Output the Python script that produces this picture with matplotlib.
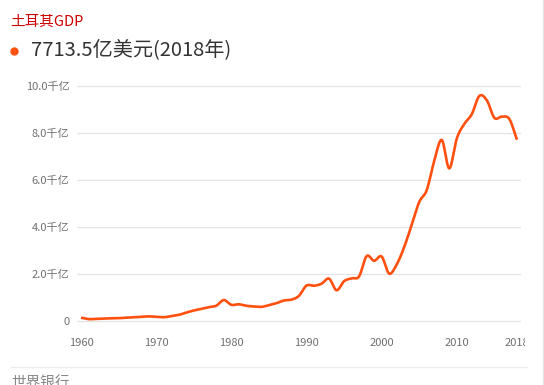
import numpy as np
import matplotlib
matplotlib.use('Agg')
import matplotlib.pyplot as plt
from matplotlib.lines import Line2D

plt.rcParams['font.family'] = ['Noto Sans CJK SC', 'DejaVu Sans']

# Turkey GDP, unit: 千亿美元 (hundred billion USD)
years = list(range(1960, 2019))
gdp = [0.140, 0.080, 0.089, 0.104, 0.112, 0.120, 0.141, 0.157, 0.175, 0.195,
       0.173, 0.160, 0.204, 0.257, 0.356, 0.446, 0.513, 0.587, 0.652, 0.891,
       0.688, 0.710, 0.646, 0.617, 0.600, 0.672, 0.757, 0.872, 0.909, 1.071,
       1.507, 1.500, 1.585, 1.802, 1.307, 1.695, 1.815, 1.898, 2.760, 2.564,
       2.743, 2.018, 2.403, 3.146, 4.089, 5.063, 5.571, 6.813, 7.705, 6.493,
       7.770, 8.388, 8.806, 9.578, 9.389, 8.643, 8.697, 8.590, 7.714]
yticks = [0, 2, 4, 6, 8, 10]
ytick_labels = ['0', '2.0千亿', '4.0千亿', '6.0千亿', '8.0千亿', '10.0千亿']
xticks = [1960, 1970, 1980, 1990, 2000, 2010, 2018]


def smooth(x, y, n=12):
    # catmull-rom spline through the points, just for a rounded line
    x = np.asarray(x, float)
    y = np.asarray(y, float)
    px = np.concatenate([[2 * x[0] - x[1]], x, [2 * x[-1] - x[-2]]])
    py = np.concatenate([[2 * y[0] - y[1]], y, [2 * y[-1] - y[-2]]])
    t = np.linspace(0, 1, n, endpoint=False)
    xs, ys = [], []
    for i in range(1, len(px) - 2):
        for p, out in ((px, xs), (py, ys)):
            p0, p1, p2, p3 = p[i - 1], p[i], p[i + 1], p[i + 2]
            out.extend(0.5 * (2 * p1 + (-p0 + p2) * t
                              + (2 * p0 - 5 * p1 + 4 * p2 - p3) * t ** 2
                              + (-p0 + 3 * p1 - 3 * p2 + p3) * t ** 3))
    xs.append(x[-1])
    ys.append(y[-1])
    return np.array(xs), np.array(ys)


W, H = 544, 385
fig = plt.figure(figsize=(W / 100, H / 100), dpi=100)

# axes placed in pixel coords
left, right = 77, 520.7
ylo, yhi = -0.5, 10.2
ppu = 23.45
bot_px = 321 + 0.5 * ppu
top_px = 86 - 0.2 * ppu
ax = fig.add_axes([left / W, 1 - bot_px / H, (right - left) / W, (bot_px - top_px) / H])

sx, sy = smooth(years, gdp)
ax.plot(sx, sy, color='#ff5010', lw=1.9, solid_capstyle='butt', zorder=3)

ax.set_xlim(1959.47, 2018.5)
ax.set_ylim(ylo, yhi)
for v in yticks:
    ax.axhline(v, color='#e3e3e3', lw=0.9, zorder=1)
ax.set_yticks(yticks)
ax.set_yticklabels(ytick_labels)
ax.set_xticks(xticks)
ax.set_xticklabels([str(v) for v in xticks])
ax.tick_params(length=0, labelsize=8, labelcolor='#707070')
ax.tick_params(axis='y', pad=5.5)
ax.tick_params(axis='x', pad=3.5)
for s in ax.spines.values():
    s.set_visible(False)
for lab in ax.get_xticklabels():
    lab.set_clip_on(True)
    lab.set_clip_box(matplotlib.transforms.Bbox([[0, 0], [525, H]]))

# header
fig.text(10 / W, 1 - 22 / H, '土耳其GDP', color='#d00000', fontsize=10.5,
         va='center', ha='left')
fig.add_artist(Line2D([14 / W], [1 - 51 / H], marker='o', markersize=5,
                      color='#ff5010', transform=fig.transFigure))
fig.text(31 / W, 1 - 50 / H, '7713.5亿美元(2018年)', color='#333333',
         fontsize=14.5, va='center', ha='left')

# frame bits and source
fig.add_artist(Line2D([11 / W, 527 / W], [1 - 367 / H] * 2, color='#ececec',
                      lw=0.9, transform=fig.transFigure))
fig.add_artist(Line2D([542.5 / W] * 2, [0, 1], color='#e6e6e6', lw=1,
                      transform=fig.transFigure))
fig.text(11 / W, 1 - 377 / H, '世界银行', color='#888888', fontsize=10.5,
         va='top', ha='left')

fig.savefig('out.png', dpi=100)
